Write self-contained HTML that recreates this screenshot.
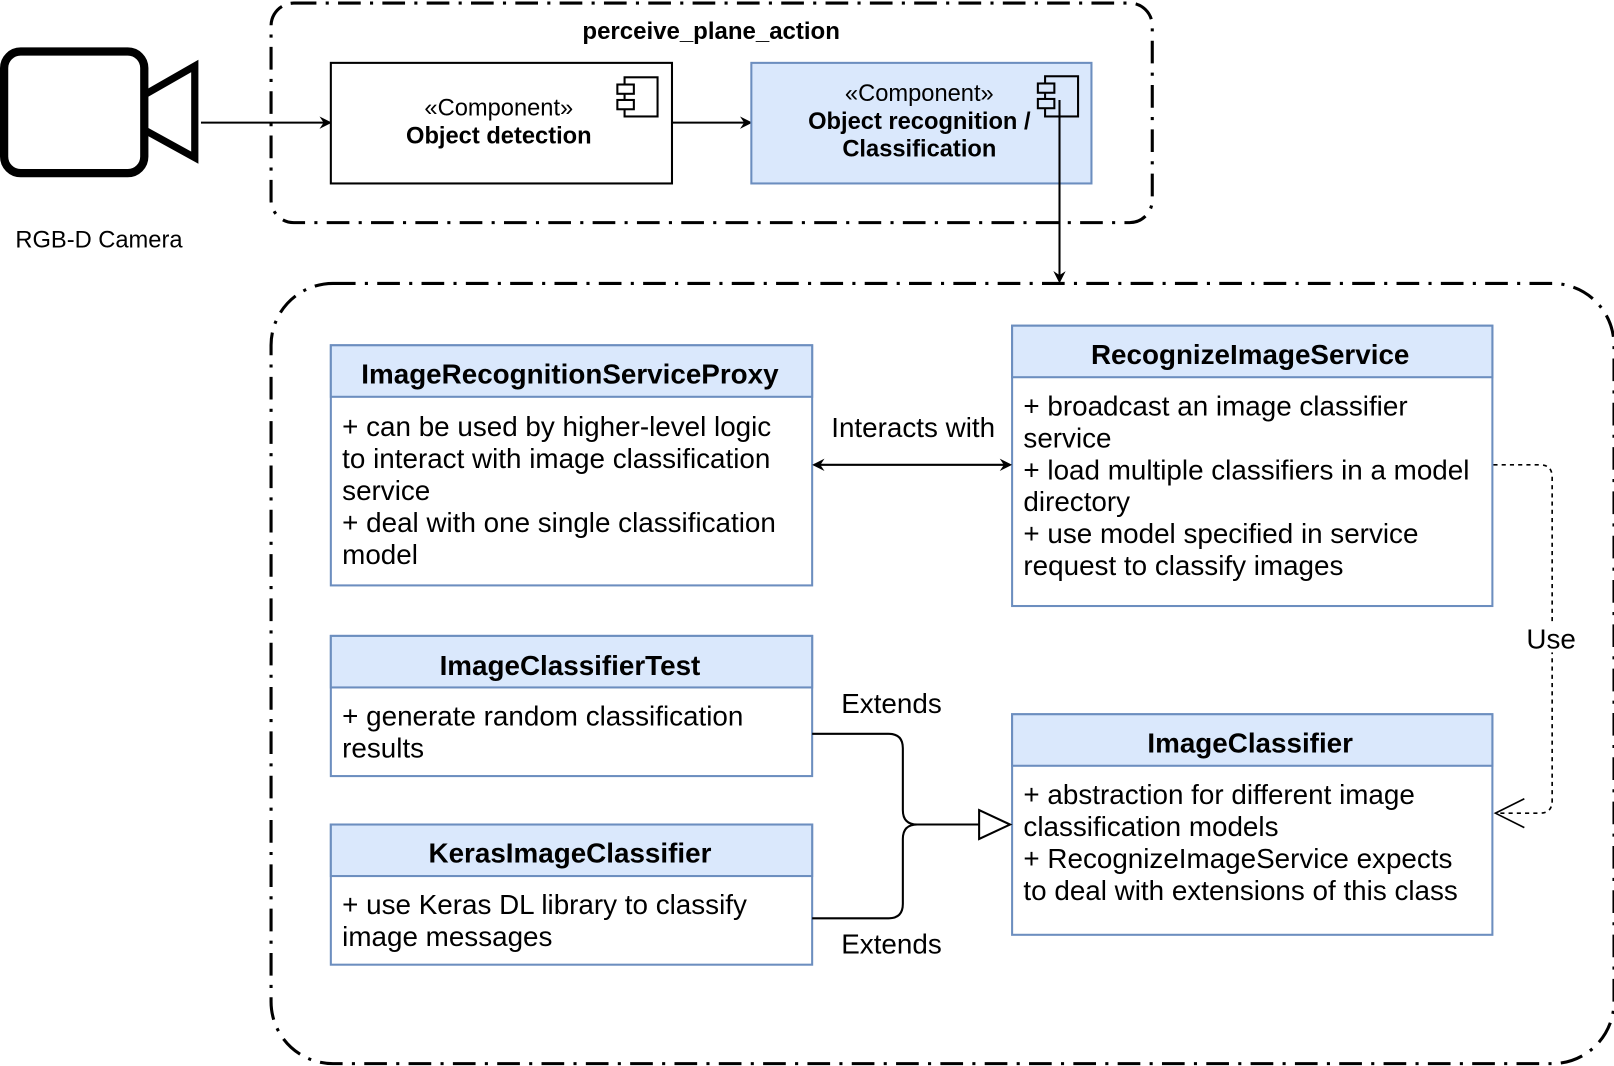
<!DOCTYPE html>
<html><head><meta charset="utf-8"><style>
html,body{margin:0;padding:0;background:#fff;}
svg{display:block;}
text{font-family:"Liberation Sans",Arial,sans-serif;fill:#000;}
</style></head><body>
<svg width="1614" height="1066" viewBox="0 0 1566 1034.3" xmlns="http://www.w3.org/2000/svg">
<defs>
<marker id="ar" markerWidth="12" markerHeight="12" refX="10" refY="6" orient="auto" markerUnits="userSpaceOnUse">
<path d="M0,0 L12,6 L0,12 L4,6 Z" fill="#000"/></marker>
<marker id="al" markerWidth="12" markerHeight="12" refX="2" refY="6" orient="auto" markerUnits="userSpaceOnUse">
<path d="M12,0 L0,6 L12,12 L8,6 Z" fill="#000"/></marker>
</defs>
<rect x="263" y="3" width="855" height="213" rx="22" fill="none" stroke="#000" stroke-width="3" stroke-dasharray="22 9 3 9"/>
<text x="690" y="38" font-size="23.3" font-weight="bold" text-anchor="middle">perceive_plane_action</text>
<rect x="263" y="275" width="1303" height="757" rx="60" fill="none" stroke="#000" stroke-width="3" stroke-dasharray="22 9 3 9"/>
<rect x="4" y="50" width="136" height="118" rx="16" fill="#fff" stroke="#000" stroke-width="8"/>
<path d="M140,92 L189,64 L189,153 L140,126" fill="none" stroke="#000" stroke-width="7"/>
<text x="96" y="240" font-size="23" text-anchor="middle">RGB-D Camera</text>
<line x1="195" y1="119" x2="320" y2="119" stroke="#000" stroke-width="2" marker-end="url(#ar)"/>
<rect x="321" y="61" width="331" height="117" fill="#fff" stroke="#000" stroke-width="2"/>
<text x="484" y="112" font-size="23" text-anchor="middle">«Component»</text>
<text x="484" y="139" font-size="23" font-weight="bold" text-anchor="middle">Object detection</text>
<rect x="606" y="75" width="32" height="38" fill="#fff" stroke="#000" stroke-width="2"/>
<rect x="599" y="82" width="16" height="9" fill="#fff" stroke="#000" stroke-width="2"/>
<rect x="599" y="97" width="16" height="9" fill="#fff" stroke="#000" stroke-width="2"/>
<line x1="652" y1="119" x2="728" y2="119" stroke="#000" stroke-width="2" marker-end="url(#ar)"/>
<rect x="729" y="61" width="330" height="117" fill="#dae8fc" stroke="#6c8ebf" stroke-width="2"/>
<text x="892" y="98" font-size="23" text-anchor="middle">«Component»</text>
<text x="892" y="125" font-size="23" font-weight="bold" text-anchor="middle">Object recognition /</text>
<text x="892" y="152" font-size="23" font-weight="bold" text-anchor="middle">Classification</text>
<rect x="1014" y="74" width="32" height="39" fill="#dae8fc" stroke="#000" stroke-width="2"/>
<rect x="1007" y="81" width="16" height="9" fill="#dae8fc" stroke="#000" stroke-width="2"/>
<rect x="1007" y="96" width="16" height="9" fill="#dae8fc" stroke="#000" stroke-width="2"/>
<line x1="1028" y1="97" x2="1028" y2="273" stroke="#000" stroke-width="2" marker-end="url(#ar)"/>
<g font-size="27">
<rect x="321" y="335" width="467" height="233" fill="#fff" stroke="#6c8ebf" stroke-width="2"/>
<rect x="321" y="335" width="467" height="50" fill="#dae8fc" stroke="#6c8ebf" stroke-width="2"/>
<text x="553" y="372" font-size="27" font-weight="bold" text-anchor="middle">ImageRecognitionServiceProxy</text>
<text x="332" y="423">+ can be used by higher-level logic</text>
<text x="332" y="454">to interact with image classification</text>
<text x="332" y="485">service</text>
<text x="332" y="516">+ deal with one single classification</text>
<text x="332" y="547">model</text>

<rect x="982" y="316" width="466" height="272" fill="#fff" stroke="#6c8ebf" stroke-width="2"/>
<rect x="982" y="316" width="466" height="50" fill="#dae8fc" stroke="#6c8ebf" stroke-width="2"/>
<text x="1213" y="353" font-size="27" font-weight="bold" text-anchor="middle">RecognizeImageService</text>
<text x="993" y="403">+ broadcast an image classifier</text>
<text x="993" y="434">service</text>
<text x="993" y="465">+ load multiple classifiers in a model</text>
<text x="993" y="496">directory</text>
<text x="993" y="527">+ use model specified in service</text>
<text x="993" y="558">request to classify images</text>

<rect x="321" y="617" width="467" height="136" fill="#fff" stroke="#6c8ebf" stroke-width="2"/>
<rect x="321" y="617" width="467" height="50" fill="#dae8fc" stroke="#6c8ebf" stroke-width="2"/>
<text x="553" y="655" font-size="27" font-weight="bold" text-anchor="middle">ImageClassifierTest</text>
<text x="332" y="704">+ generate random classification</text>
<text x="332" y="735">results</text>

<rect x="321" y="800" width="467" height="136" fill="#fff" stroke="#6c8ebf" stroke-width="2"/>
<rect x="321" y="800" width="467" height="50" fill="#dae8fc" stroke="#6c8ebf" stroke-width="2"/>
<text x="553" y="837" font-size="27" font-weight="bold" text-anchor="middle">KerasImageClassifier</text>
<text x="332" y="887">+ use Keras DL library to classify</text>
<text x="332" y="918">image messages</text>

<rect x="982" y="693" width="466" height="214" fill="#fff" stroke="#6c8ebf" stroke-width="2"/>
<rect x="982" y="693" width="466" height="50" fill="#dae8fc" stroke="#6c8ebf" stroke-width="2"/>
<text x="1213" y="730" font-size="27" font-weight="bold" text-anchor="middle">ImageClassifier</text>
<text x="993" y="780">+ abstraction for different image</text>
<text x="993" y="811">classification models</text>
<text x="993" y="842">+ RecognizeImageService expects</text>
<text x="993" y="873">to deal with extensions of this class</text>

<text x="886" y="424" text-anchor="middle">Interacts with</text>
<text x="865" y="692" text-anchor="middle">Extends</text>
<text x="865" y="925" text-anchor="middle">Extends</text>
</g>
<line x1="790" y1="451" x2="980" y2="451" stroke="#000" stroke-width="2" marker-start="url(#al)" marker-end="url(#ar)"/>
<path d="M788,712 L862,712 Q876,712 876,726 L876,786 Q876,800 890,800 L950,800 M788,891 L862,891 Q876,891 876,877 L876,814 Q876,800 890,800" fill="none" stroke="#000" stroke-width="2"/>
<path d="M950,786 L980,800 L950,814 Z" fill="#fff" stroke="#000" stroke-width="2"/>
<path d="M1449,451 L1494,451 Q1506,451 1506,463 L1506,777 Q1506,789 1494,789 L1451,789" fill="none" stroke="#000" stroke-width="1.6" stroke-dasharray="4 4"/>
<path d="M1479,775 L1451,789 L1479,803" fill="none" stroke="#000" stroke-width="1.6"/>
<rect x="1478" y="603" width="54" height="30" fill="#fff"/>
<text x="1505" y="629" font-size="27" text-anchor="middle">Use</text>
</svg>
</body></html>
